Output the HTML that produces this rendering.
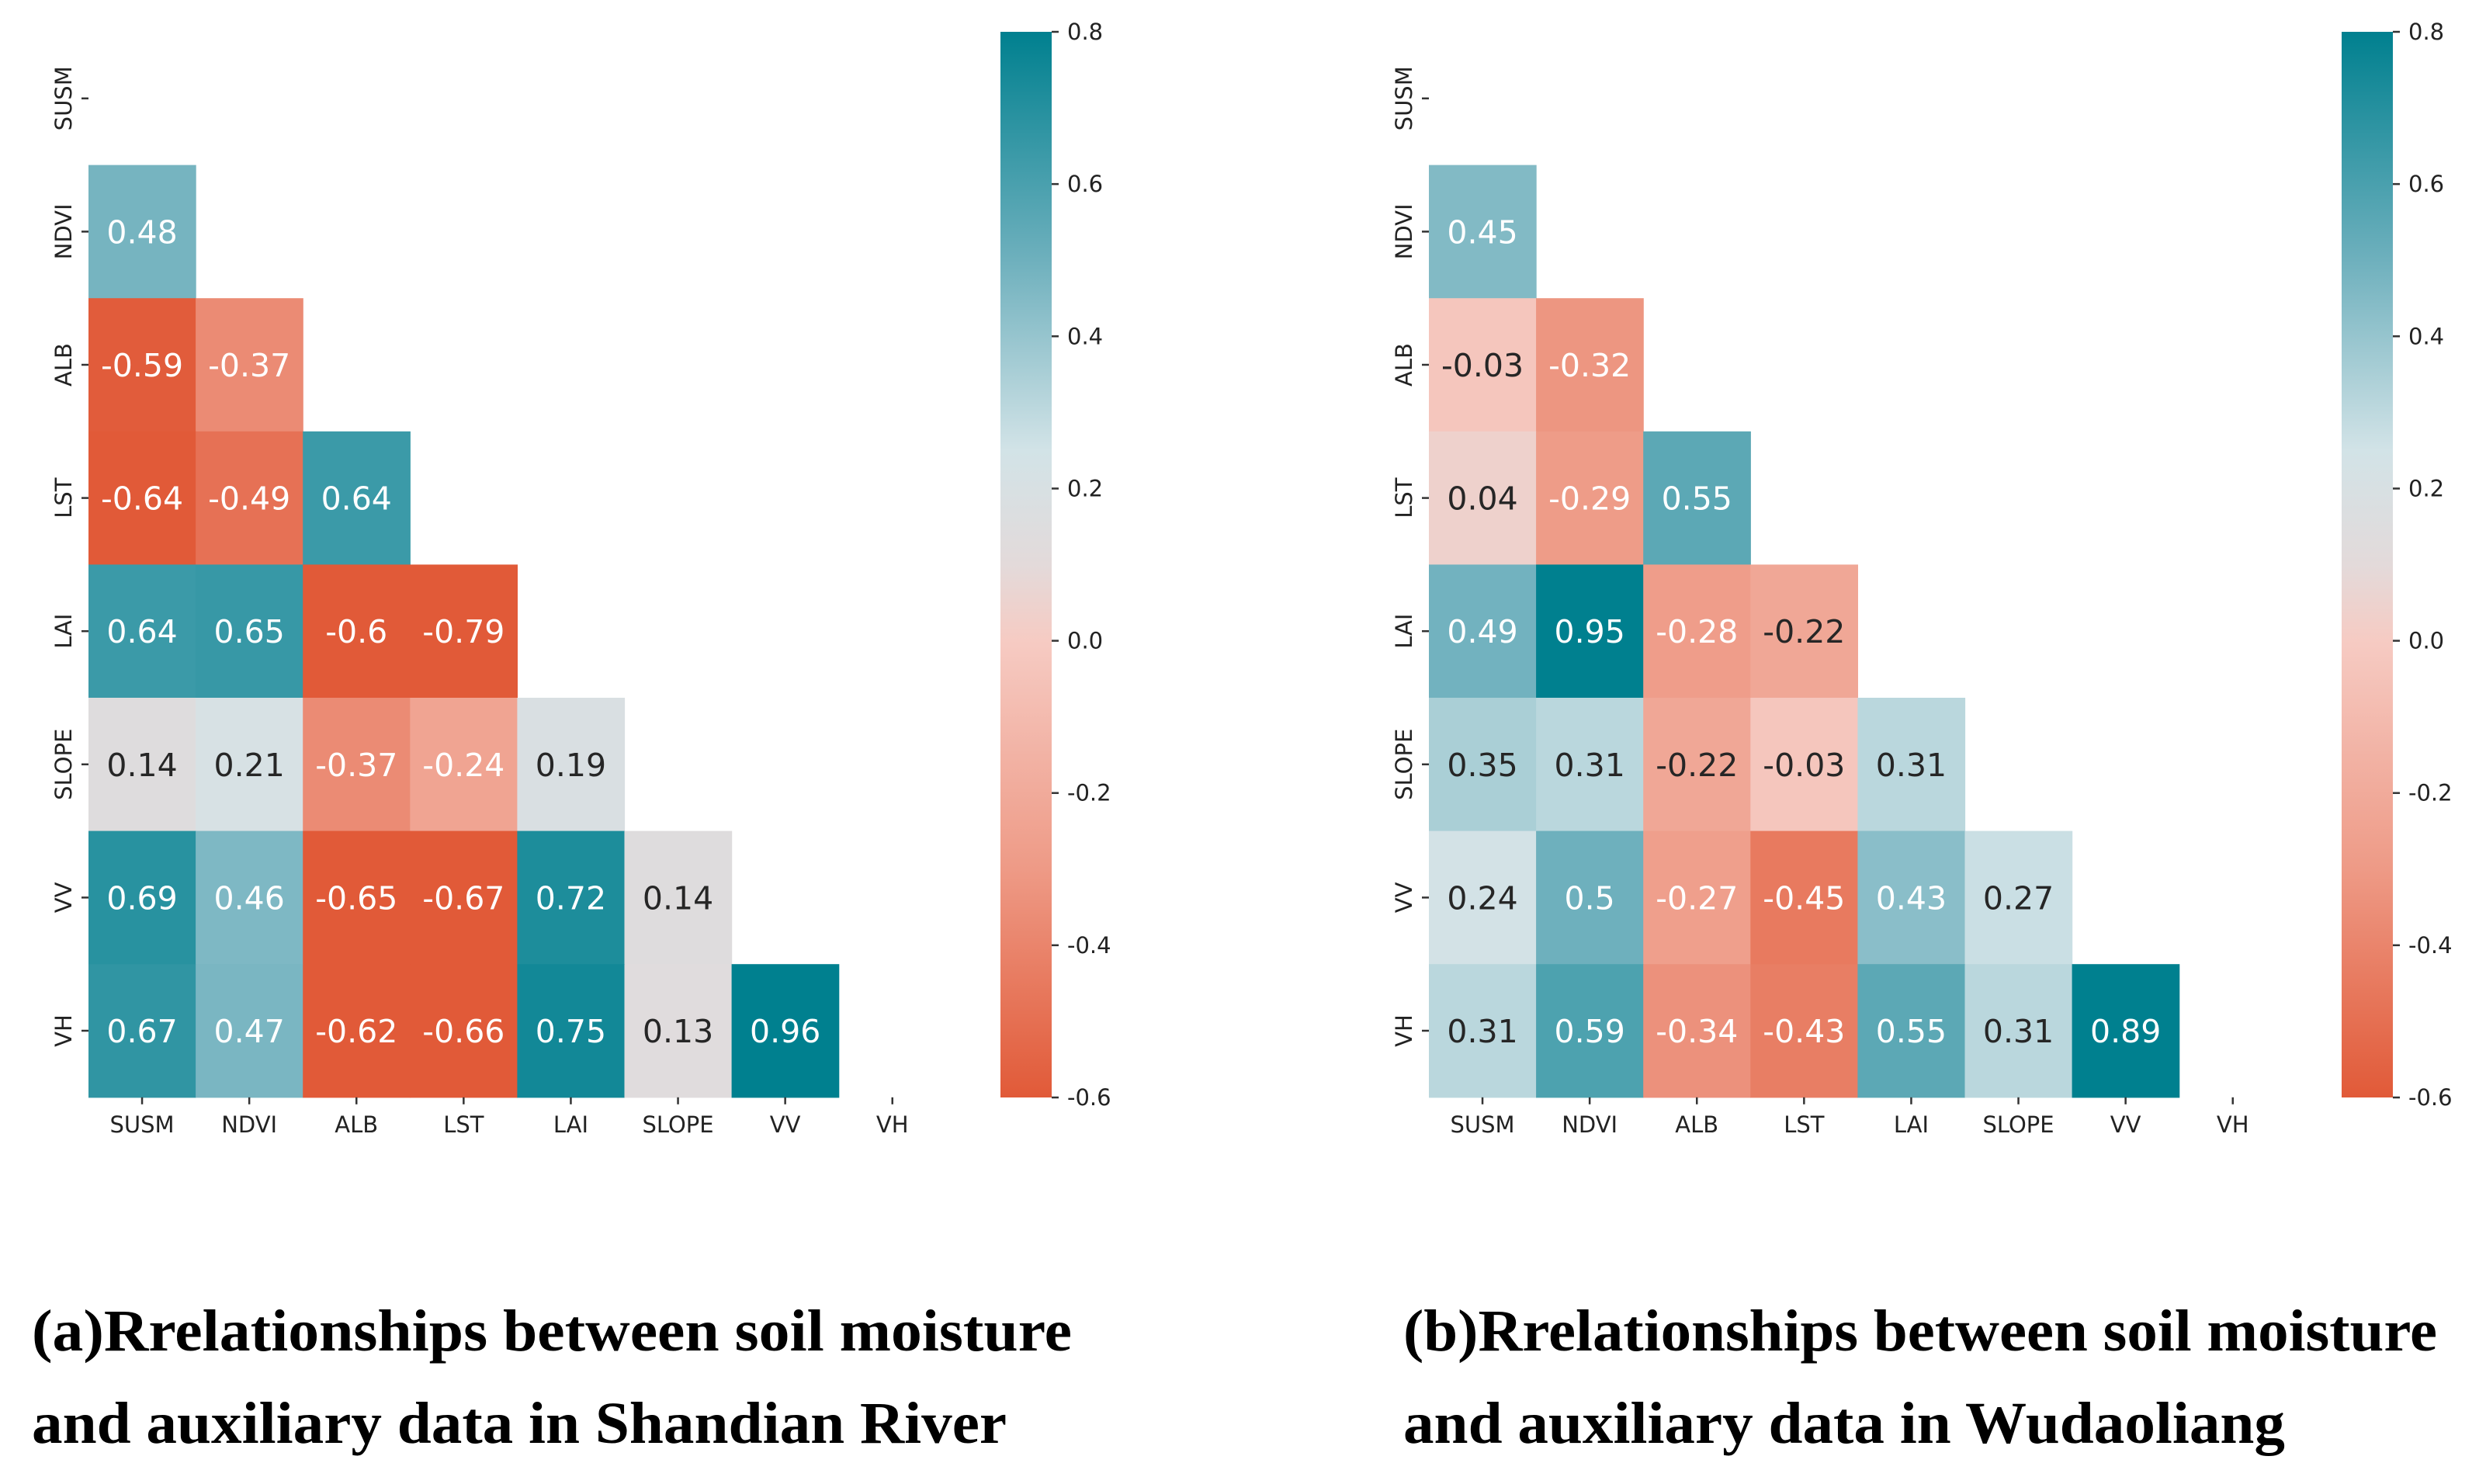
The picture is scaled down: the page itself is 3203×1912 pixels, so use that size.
<!DOCTYPE html>
<html><head><meta charset="utf-8">
<style>html,body{margin:0;padding:0;background:#fff}svg{display:block}</style></head>
<body>
<svg id="fig" width="3203" height="1912" viewBox="0 0 3203 1912" xmlns="http://www.w3.org/2000/svg">
<defs>
<linearGradient id="cbg" x1="0" y1="1" x2="0" y2="0">
<stop offset="0" stop-color="#e15a38"/><stop offset="0.214" stop-color="#ee9a86"/>
<stop offset="0.4286" stop-color="#f6cbc3"/><stop offset="0.5" stop-color="#e3dada"/>
<stop offset="0.607" stop-color="#d2e3e7"/><stop offset="0.786" stop-color="#6eb0bd"/>
<stop offset="1" stop-color="#00808f"/>
</linearGradient>
</defs>
<g id="panelA"></g>
<g id="panelB"></g>
<text x="41" y="1740" font-family="Liberation Serif, serif" font-weight="bold" font-size="76" textLength="1340" lengthAdjust="spacingAndGlyphs">(a)Rrelationships between soil moisture</text>
<text x="41" y="1859" font-family="Liberation Serif, serif" font-weight="bold" font-size="76" textLength="1256" lengthAdjust="spacingAndGlyphs">and auxiliary data in Shandian River</text>
<text x="1808" y="1740" font-family="Liberation Serif, serif" font-weight="bold" font-size="76" textLength="1332" lengthAdjust="spacingAndGlyphs">(b)Rrelationships between soil moisture</text>
<text x="1808" y="1859" font-family="Liberation Serif, serif" font-weight="bold" font-size="76" textLength="1136" lengthAdjust="spacingAndGlyphs">and auxiliary data in Wudaoliang</text>
</svg>
<script>
const labels = ["SUSM","NDVI","ALB","LST","LAI","SLOPE","VV","VH"];
// lower triangle rows (row i has i values)
const valuesA = [[],[0.48],[-0.59,-0.37],[-0.64,-0.49,0.64],[0.64,0.65,-0.6,-0.79],[0.14,0.21,-0.37,-0.24,0.19],[0.69,0.46,-0.65,-0.67,0.72,0.14],[0.67,0.47,-0.62,-0.66,0.75,0.13,0.96]];
const valuesB = [[],[0.45],[-0.03,-0.32],[0.04,-0.29,0.55],[0.49,0.95,-0.28,-0.22],[0.35,0.31,-0.22,-0.03,0.31],[0.24,0.5,-0.27,-0.45,0.43,0.27],[0.31,0.59,-0.34,-0.43,0.55,0.31,0.89]];
const cbTicks = [-0.6,-0.4,-0.2,0.0,0.2,0.4,0.6,0.8];
const vmin=-0.6, vmax=0.8;
const stops=[[-0.6,[225,90,56]],[-0.3,[238,154,134]],[0,[246,203,195]],[0.1,[227,218,218]],[0.25,[210,227,231]],[0.5,[110,176,189]],[0.8,[0,128,143]]];
function color(v){v=Math.max(vmin,Math.min(vmax,v));for(let i=0;i<stops.length-1;i++){const a=stops[i],b=stops[i+1];if(v<=b[0]){const t=(v-a[0])/(b[0]-a[0]);const c=a[1].map((x,k)=>Math.round(x+(b[1][k]-x)*t));return c;}}return stops[stops.length-1][1];}
const NS="http://www.w3.org/2000/svg";
function mk(tag,attrs,parent,txt){const e=document.createElementNS(NS,tag);for(const k in attrs)e.setAttribute(k,attrs[k]);if(txt!==undefined)e.textContent=txt;parent.appendChild(e);return e;}
function draw(gid,vals,x0,cbx){
  const g=document.getElementById(gid);
  const top=41, cw=138.1, ch=171.6, n=labels.length;
  const xs=i=>x0+i*cw, ys=i=>top+i*ch;
  const font="DejaVu Sans, Liberation Sans, sans-serif";
  for(let r=0;r<n;r++){for(let c=0;c<vals[r].length;c++){
    const v=vals[r][c]; const col=color(v);
    const rect=mk('rect',{x:xs(c),y:ys(r),width:cw+0.6,height:ch+0.6,fill:`rgb(${col.join(',')})`},g);
    
    
    const lum=0.299*col[0]+0.587*col[1]+0.114*col[2];
    const t=mk('text',{x:xs(c)+cw/2,y:ys(r)+ch/2+15,'text-anchor':'middle','font-family':font,'font-size':41,fill:lum<185?'#ffffff':'#262626'},g,String(v));
    
    
  }}
  for(let i=0;i<n;i++){
    const cx=xs(i)+cw/2, cy=ys(i)+ch/2;
    mk('line',{x1:cx,y1:top+n*ch,x2:cx,y2:top+n*ch+9,stroke:'#333','stroke-width':2.5},g);
    const tx=mk('text',{x:cx,y:top+n*ch+45,'text-anchor':'middle','font-family':font,'font-size':29,fill:'#222'},g,labels[i]);
    
    
    mk('line',{x1:x0-9,y1:cy,x2:x0,y2:cy,stroke:'#333','stroke-width':2.5},g);
    const ty=mk('text',{x:0,y:0,'text-anchor':'middle','font-family':font,'font-size':29,fill:'#222',transform:`translate(${x0-22},${cy}) rotate(-90)`},g,labels[i]);
    
    
  }
  const cbTop=41, cbH=1373, cbW=66;
  const cb=mk('rect',{x:cbx,y:cbTop,width:cbW,height:cbH,fill:'url(#cbg)'},g);
  
  
  cbTicks.forEach(v=>{
    const y=cbTop+cbH*(vmax-v)/(vmax-vmin);
    mk('line',{x1:cbx+cbW,y1:y,x2:cbx+cbW+9,y2:y,stroke:'#333','stroke-width':2.5},g);
    const t=mk('text',{x:cbx+cbW+20,y:y+10,'font-family':font,'font-size':29,fill:'#222'},g,v.toFixed(1));
    
    
  });
}
draw('panelA',valuesA,114,1289);
draw('panelB',valuesB,1841,3017);
</script>
</body></html>
